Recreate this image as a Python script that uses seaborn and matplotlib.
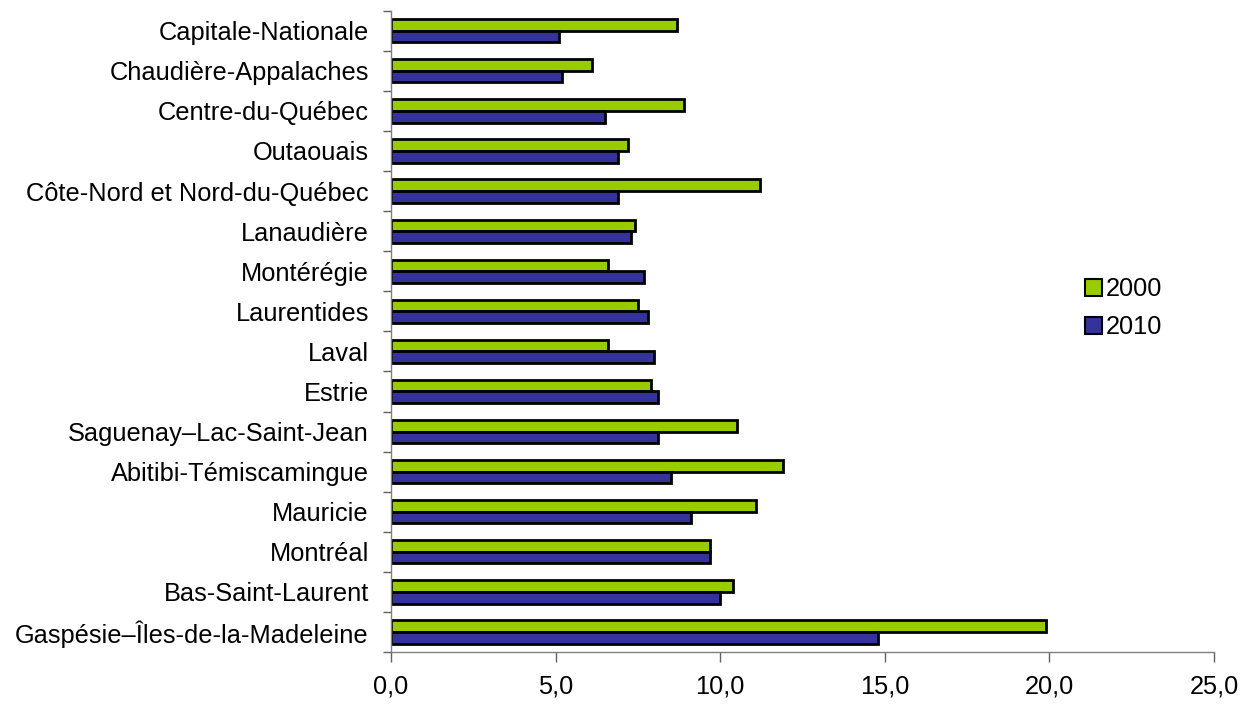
import numpy as np
import pandas as pd
import matplotlib
matplotlib.use("Agg")
import matplotlib.pyplot as plt
import seaborn as sns
from matplotlib.ticker import FuncFormatter

regions = ["Capitale-Nationale", "Chaudière-Appalaches", "Centre-du-Québec", "Outaouais",
           "Côte-Nord et Nord-du-Québec", "Lanaudière", "Montérégie", "Laurentides",
           "Laval", "Estrie", "Saguenay–Lac-Saint-Jean", "Abitibi-Témiscamingue",
           "Mauricie", "Montréal", "Bas-Saint-Laurent", "Gaspésie–Îles-de-la-Madeleine"]
values_2000 = [8.7, 6.1, 8.9, 7.2, 11.2, 7.4, 6.6, 7.5, 6.6, 7.9, 10.5, 11.9, 11.1, 9.7, 10.4, 19.9]
values_2010 = [5.1, 5.2, 6.5, 6.9, 6.9, 7.3, 7.7, 7.8, 8.0, 8.1, 8.1, 8.5, 9.1, 9.7, 10.0, 14.8]
years = ["2000", "2010"]
xticks = [0, 5, 10, 15, 20, 25]

df = pd.DataFrame({
    "region": regions * 2,
    "value": values_2000 + values_2010,
    "year": [years[0]] * len(regions) + [years[1]] * len(regions),
})

sns.set_style("white")
plt.rcParams['font.family'] = ['Liberation Sans', 'DejaVu Sans']
plt.rcParams['text.color'] = 'black'
plt.rcParams['xtick.color'] = 'black'
plt.rcParams['ytick.color'] = 'black'

FS = 18.3

fig = plt.figure(figsize=(12.43, 7.05), dpi=100)
ax = fig.add_axes([391/1243, 1 - 652/705, (1214-391)/1243, (652-10.7)/705])

palette = {"2000": "#99CC00", "2010": "#333399"}
sns.barplot(data=df, x="value", y="region", hue="year", order=regions, hue_order=years,
            palette=palette, orient="h", width=0.58, edgecolor="black", linewidth=2.0,
            saturation=1, ax=ax, errorbar=None)

n = len(regions)
ax.set_ylim(n - 0.5, -0.5)
ax.set_xlim(0, 25)
ax.set_yticks(np.arange(-0.5, n, 1.0))
ax.set_yticklabels([])
ax.set_yticks(np.arange(n), minor=True)
ax.set_yticklabels(regions, minor=True, fontsize=FS)
ax.tick_params(axis="y", which="major", length=6, width=1, color="#606060", direction="out", left=True)
ax.tick_params(axis="y", which="minor", length=0, pad=16, labelcolor="black")
ax.set_xticks(xticks)
ax.xaxis.set_major_formatter(FuncFormatter(lambda v, p: f"{v:.1f}".replace(".", ",")))
ax.tick_params(axis="x", length=7, width=1, color="#606060", direction="out", bottom=True,
               labelsize=FS, pad=9, labelcolor="black")
ax.set_xlabel("")
ax.set_ylabel("")
for s in ["top", "right"]:
    ax.spines[s].set_visible(False)
for s in ["left", "bottom"]:
    ax.spines[s].set_color("#808080")
    ax.spines[s].set_linewidth(1)

handles, labels = ax.get_legend_handles_labels()
for h in handles:
    h.set_linewidth(1.5)
ax.legend(handles, labels, loc="center left", bbox_to_anchor=(1075/1243, 1 - 308/705),
          bbox_transform=fig.transFigure, frameon=False, fontsize=FS,
          handlelength=0.65, handleheight=0.65, handletextpad=0.15, labelspacing=0.55,
          borderaxespad=0)

fig.savefig("out.png", dpi=100)
